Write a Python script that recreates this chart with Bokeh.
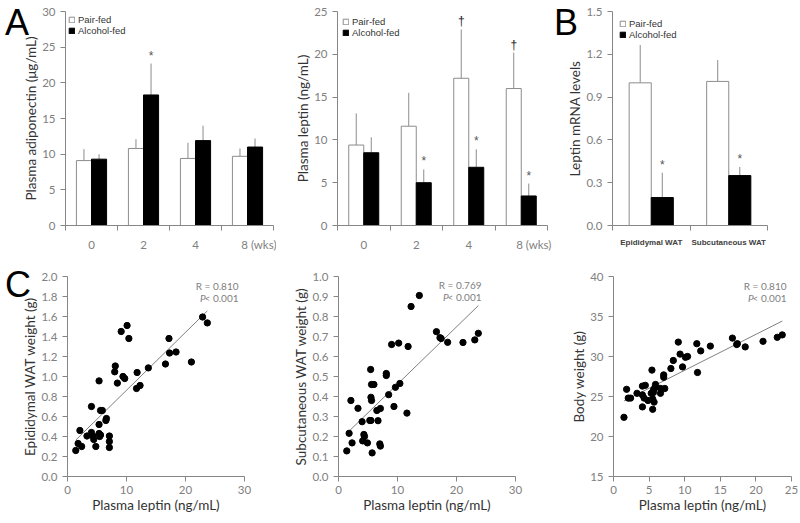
import numpy as np
from bokeh.plotting import figure
from bokeh.models import Range1d, FixedTicker, Label, Legend, LegendItem, Div
from bokeh.layouts import row, column
from bokeh.embed import file_html
from bokeh.resources import INLINE
from bokeh.core.properties import value

# ---------------- data ----------------
weeks = ["0", "2", "4", "8"]
week_unit = "(wks)"
adipo_pair = [9.1, 10.8, 9.4, 9.7]
adipo_pair_err = [1.6, 1.3, 2.2, 1.1]
adipo_alc = [9.3, 18.3, 11.9, 11.0]
adipo_alc_err = [0.7, 4.4, 2.1, 1.2]
adipo_pair_sig = ["", "", "", ""]
adipo_alc_sig = ["", "*", "", ""]

leptin_pair = [9.4, 11.6, 17.2, 16.0]
leptin_pair_err = [3.7, 3.9, 5.7, 4.2]
leptin_alc = [8.5, 5.0, 6.8, 3.45]
leptin_alc_err = [1.8, 1.55, 2.1, 1.45]
leptin_pair_sig = ["", "", "\u2020", "\u2020"]
leptin_alc_sig = ["", "*", "*", "*"]

tissues = ["Epididymal WAT", "Subcutaneous WAT"]
mrna_pair = [1.00, 1.01]
mrna_pair_err = [0.265, 0.15]
mrna_alc = [0.196, 0.35]
mrna_alc_err = [0.174, 0.06]
mrna_pair_sig = ["", ""]
mrna_alc_sig = ["*", "*"]

# C1: plasma leptin vs epididymal WAT weight
c1_leptin = [1.4, 1.8, 2.4, 2.1, 3.3, 4.06, 4.06, 4.3, 4.45, 4.8, 5.35, 5.35, 5.35, 5.45,
             5.6, 5.6, 5.9, 6.5, 6.6, 7.1, 7.1, 7.1, 8.0, 8.1, 8.45, 9.1, 9.4, 9.7, 10.1,
             10.4, 11.7, 11.8, 12.3, 13.7, 16.6, 17.2, 17.3, 18.4, 21.0, 22.9, 23.7]
c1_epi = [0.26, 0.33, 0.30, 0.46, 0.405, 0.70, 0.44, 0.405, 0.37, 0.30, 0.956, 0.52, 0.43, 0.40,
          0.415, 0.66, 0.66, 0.56, 0.58, 0.405, 0.35, 0.29, 1.047, 1.105, 0.934, 1.45, 1.0, 0.98, 1.51,
          1.38, 0.88, 1.04, 0.91, 1.086, 1.125, 1.38, 1.235, 1.245, 1.145, 1.595, 1.536]

# C2: plasma leptin vs subcutaneous WAT weight
c2_leptin = [1.4, 1.8, 2.1, 2.3, 3.3, 4.0, 4.3, 4.4, 4.1, 4.9, 5.3, 5.5, 5.45, 5.5, 5.6, 5.7,
             5.6, 6.0, 6.5, 6.7, 7.1, 7.0, 7.1, 8.1, 8.1, 8.5, 9.0, 9.4, 9.65, 10.2, 10.4,
             11.6, 11.8, 12.3, 13.7, 16.6, 17.2, 17.4, 18.5, 21.1, 23.1, 23.7]
c2_sub = [0.128, 0.216, 0.38, 0.168, 0.341, 0.274, 0.21, 0.20, 0.178, 0.168, 0.28, 0.28, 0.535, 0.396,
          0.38, 0.118, 0.46, 0.46, 0.33, 0.279, 0.34, 0.163, 0.152, 0.505, 0.515, 0.409, 0.66, 0.35,
          0.446, 0.667, 0.465, 0.317, 0.65, 0.85, 0.905, 0.724, 0.694, 0.69, 0.671, 0.67, 0.683, 0.716]

# C3: plasma leptin vs body weight
c3_leptin = [1.47, 1.84, 2.07, 2.4, 3.3, 4.06, 4.06, 4.47, 4.3, 4.06, 4.84, 5.3, 5.4, 5.5, 5.5,
             5.7, 5.6, 5.8, 5.9, 5.6, 6.6, 6.6, 7.2, 7.05, 7.05, 8.06, 8.4, 9.1, 9.35, 9.7, 10.1,
             10.4, 11.7, 11.8, 12.25, 13.6, 16.7, 17.3, 17.4, 18.5, 21.0, 23.0, 23.7]
c3_body = [22.4, 25.9, 24.8, 24.8, 25.4, 25.2, 26.3, 26.4, 24.8, 23.7, 24.5, 25.4, 28.3, 23.4, 24.7,
           24.3, 25.8, 26.1, 26.5, 25.5, 25.4, 26.0, 26.0, 27.7, 27.4, 28.5, 29.5, 31.8, 30.3, 28.7, 29.9,
           30.0, 31.6, 28.0, 30.7, 31.3, 32.3, 31.5, 31.6, 31.2, 31.9, 32.4, 32.7]

c1_stats = ("R = 0.810", "P", "< 0.001")
c2_stats = ("R = 0.769", "P", "< 0.001")
c3_stats = ("R = 0.810", "P", "< 0.001")

# ---------------- styles ----------------
AX = "#868686"
TICK_COL = "#808080"
LAB_COL = "#333333"
FONT = "Lato"


def style_axes(p):
    for ax in p.axis:
        ax.axis_line_color = AX
        ax.major_tick_line_color = AX
        ax.minor_tick_line_color = None
        ax.major_tick_in = 0
        ax.major_tick_out = 5
        ax.major_label_standoff = 5
        ax.major_label_text_color = TICK_COL
        ax.major_label_text_font = FONT
        ax.major_label_text_font_size = "11.5px"
        ax.axis_label_text_color = LAB_COL
        ax.axis_label_text_font = FONT
        ax.axis_label_text_font_size = "13.5px"
        ax.axis_label_text_font_style = "normal"
        ax.axis_label_standoff = 0


def make_fig(w, h, left, right, top, bottom, xr, yr):
    p = figure(width=w, height=h, x_range=xr, y_range=yr, output_backend="svg",
               toolbar_location=None, min_border_left=left, min_border_right=right,
               min_border_top=top, min_border_bottom=bottom)
    p.outline_line_color = None
    p.grid.visible = False
    style_axes(p)
    return p


def bar_panel(w, h, left, right, top, bottom, frame_w, cats, cat_labels, last_shift_px,
              pair, pair_err, alc, alc_err, pair_sig, alc_sig, ymax, ystep, ylabel, bar_w,
              yfmt, legend_margin):
    n = len(cats)
    centers = np.arange(n) + 0.5
    p = make_fig(w, h, left, right, top, bottom, Range1d(0, n), Range1d(0, ymax))
    xp = centers - bar_w / 2
    xa = centers + bar_w / 2
    pair = np.array(pair); alc = np.array(alc)
    pair_top = pair + np.array(pair_err)
    alc_top = alc + np.array(alc_err)
    p.segment(x0=xp, y0=pair, x1=xp, y1=pair_top, line_color="#8c8c8c", line_width=1)
    p.segment(x0=xa, y0=alc, x1=xa, y1=alc_top, line_color="#8c8c8c", line_width=1)
    r1 = p.vbar(x=xp, top=pair, width=bar_w, fill_color="white", line_color="#8c8c8c", line_width=1)
    r2 = p.vbar(x=xa, top=alc, width=bar_w, fill_color="black", line_color="black", line_width=1)
    marks = list(pair_sig) + list(alc_sig)
    p.text(x=list(xp) + list(xa), y=list(pair_top) + list(alc_top), text=marks,
           text_align="center", text_baseline="bottom", text_font=value("Liberation Sans"),
           text_font_size="12px", text_color=["#222222" if m == "\u2020" else "#555555" for m in marks],
           y_offset=-1)
    yt = np.arange(0, ymax + ystep / 2, ystep)
    p.yaxis.ticker = FixedTicker(ticks=[float(v) for v in yt])
    p.yaxis.major_label_overrides = {float(v): (yfmt % v) for v in yt}
    p.yaxis.axis_label = ylabel
    ppu = frame_w / n
    label_pos = [float(c) for c in centers]
    label_pos[-1] += last_shift_px / ppu
    p.xaxis.ticker = FixedTicker(ticks=label_pos, minor_ticks=list(range(n + 1)))
    p.xaxis.major_label_overrides = {pos: lab for pos, lab in zip(label_pos, cat_labels)}
    p.xaxis.major_tick_line_color = None
    p.xaxis.major_tick_out = 0
    p.xaxis.minor_tick_line_color = AX
    p.xaxis.minor_tick_out = 5
    p.xaxis.minor_tick_in = 0
    p.xaxis.major_label_standoff = 7
    legend = Legend(items=[LegendItem(label="Pair-fed", renderers=[r1]),
                           LegendItem(label="Alcohol-fed", renderers=[r2])],
                    location="top_left", orientation="vertical",
                    glyph_width=7, glyph_height=7, label_height=10, label_standoff=3,
                    spacing=0, padding=0, margin=legend_margin, border_line_color=None,
                    background_fill_alpha=0, label_text_font="Liberation Sans",
                    label_text_font_size="9.5px", label_text_color="#333333")
    p.add_layout(legend)
    return p


def scatter_panel(w, h, left, right, top, bottom, x, y, xmax, xstep,
                  ymin, ymax, ystep, yfmt, ylabel, stats, stat_dx, stat_dy):
    p = make_fig(w, h, left, right, top, bottom, Range1d(0, xmax), Range1d(ymin, ymax))
    x = np.array(x); y = np.array(y)
    coef = np.polyfit(x, y, 1)
    xl = np.array([x.min(), x.max()])
    p.line(xl, np.polyval(coef, xl), line_color="#808080", line_width=1)
    p.scatter(x, y, size=6.3, fill_color="black", line_color="black")
    p.xaxis.ticker = FixedTicker(ticks=[float(v) for v in np.arange(0, xmax + xstep / 2, xstep)])
    yt = np.arange(ymin, ymax + ystep / 2, ystep)
    p.yaxis.ticker = FixedTicker(ticks=[float(v) for v in yt])
    p.yaxis.major_label_overrides = {float(v): (yfmt % v) for v in yt}
    p.yaxis.axis_label = ylabel
    p.xaxis.axis_label = "Plasma leptin (ng/mL)"
    p.xaxis.major_label_standoff = 4
    kw = dict(x=xmax, y=ymax, x_units="data", y_units="data", text_font=FONT,
              text_font_size="10px", text_color=TICK_COL, text_baseline="middle")
    p.add_layout(Label(x_offset=-stat_dx, y_offset=-stat_dy, text=stats[0], text_align="right", **kw))
    p.add_layout(Label(x_offset=-stat_dx, y_offset=-stat_dy - 12, text=stats[2], text_align="right", **kw))
    p.add_layout(Label(x_offset=-stat_dx - 33, y_offset=-stat_dy - 12, text=stats[1], text_align="right",
                       text_font_style="italic", **kw))
    return p


def letter_div(t, left, top):
    return Div(text=t, width=30, height=36,
               styles={"position": "absolute", "left": f"{left}px", "top": f"{top}px",
                       "font-family": "Liberation Sans", "font-size": "36px",
                       "line-height": "36px", "color": "black"})


# ---------------- top row ----------------
TOP_H, TOP_T, TOP_B = 253, 11, 26
wk_labels = weeks[:-1] + [weeks[-1] + " " + week_unit]

p_a1 = bar_panel(276, TOP_H, 65, 3, TOP_T, TOP_B, 208, weeks, wk_labels, 12.5,
                 adipo_pair, adipo_pair_err, adipo_alc, adipo_alc_err, adipo_pair_sig, adipo_alc_sig,
                 30, 5, "Plasma adiponectin (\u03bcg/mL)", 0.29, "%d", 3)
p_a2 = bar_panel(280, TOP_H, 61, 9, TOP_T, TOP_B, 210, weeks, wk_labels, 12.5,
                 leptin_pair, leptin_pair_err, leptin_alc, leptin_alc_err, leptin_pair_sig,
                 leptin_alc_sig, 25, 5, "Plasma leptin (ng/mL)", 0.286, "%d", 5)
p_b = bar_panel(244, TOP_H, 56, 33, TOP_T, TOP_B, 155, tissues, tissues, 0,
                mrna_pair, mrna_pair_err, mrna_alc, mrna_alc_err, mrna_pair_sig, mrna_alc_sig,
                1.5, 0.3, "Leptin mRNA levels", 0.285, "%.1f", 7)
p_b.xaxis.major_label_text_font = "Liberation Sans"
p_b.xaxis.major_label_text_font_size = "8px"
p_b.xaxis.major_label_text_font_style = "bold"
p_b.xaxis.major_label_text_color = "#404040"

# ---------------- bottom row ----------------
BOT_H, BOT_T, BOT_B = 265, 23, 42

p_c1 = scatter_panel(276, BOT_H, 67, 32, BOT_T, BOT_B, c1_leptin, c1_epi, 30, 10,
                     0.0, 2.0, 0.2, "%.1f", "Epididymal WAT weight (g)", c1_stats, 6, 9)
p_c2 = scatter_panel(280, BOT_H, 62, 41, BOT_T, BOT_B, c2_leptin, c2_sub, 30, 10,
                     0.0, 1.0, 0.1, "%.1f", "Subcutaneous WAT weight (g)", c2_stats, 34, 8)
p_c3 = scatter_panel(244, BOT_H, 57, 9, BOT_T, BOT_B, c3_leptin, c3_body, 25, 5,
                     15, 40, 5, "%d", "Body weight (g)", c3_stats, 5, 9)

layout = column(row(p_a1, p_a2, p_b, spacing=0), row(p_c1, p_c2, p_c3, spacing=0),
                letter_div("A", 0, 0), letter_div("B", 549, 0), letter_div("C", 0, 262),
                spacing=0)

open("out.html", "w").write(file_html(layout, INLINE))
